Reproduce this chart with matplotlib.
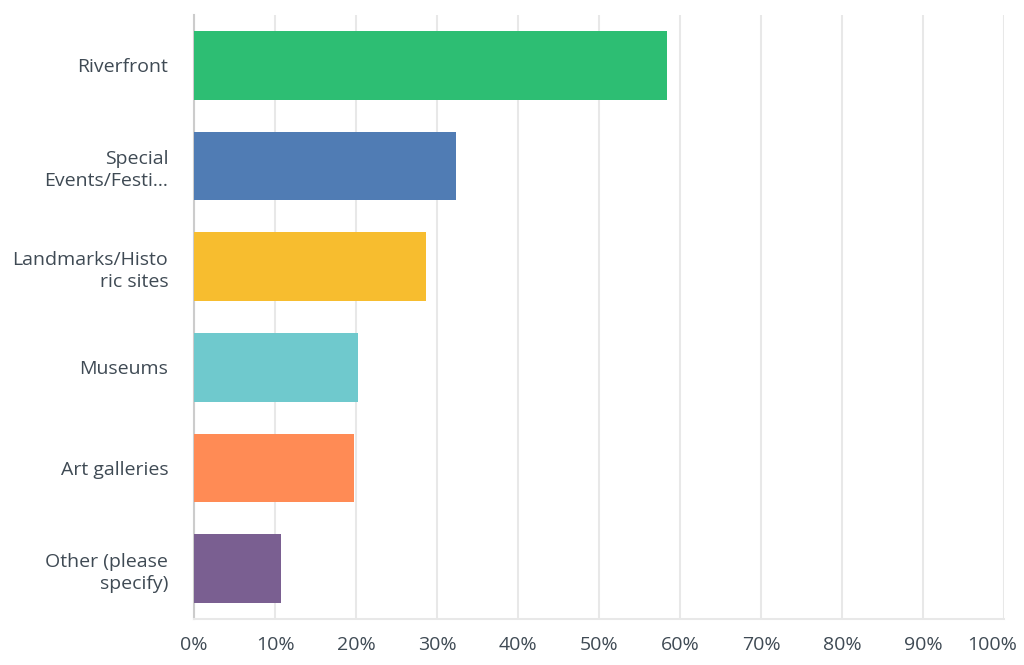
import matplotlib
matplotlib.use("Agg")
import matplotlib.pyplot as plt
from matplotlib.ticker import FuncFormatter
from matplotlib.transforms import ScaledTranslation

categories = ["Riverfront", "Special\nEvents/Festi...", "Landmarks/Histo\nric sites",
              "Museums", "Art galleries", "Other (please\nspecify)"]
values = [58.4, 32.4, 28.6, 20.3, 19.7, 10.75]
colors = ["#2dbe73", "#507cb4", "#f7bd2f", "#6fc9cd", "#ff8b55", "#7a5f91"]
xticks = list(range(0, 101, 10))

plt.rcParams['font.family'] = ['Open Sans', 'DejaVu Sans']
text_color = "#3f4a54"

fig = plt.figure(figsize=(10.24, 6.65), dpi=100)
ax = fig.add_axes([194/1024, 1-619/665, 810/1024, 604/665])

y = list(range(len(categories)))
ax.barh(y, values, height=0.68, color=colors, zorder=3)
ax.set_ylim(len(categories)-0.5, -0.5)
ax.set_xlim(0, 100)
ax.set_xticks(xticks)
ax.xaxis.set_major_formatter(FuncFormatter(lambda v, p: f"{int(v)}%"))
ax.set_yticks(y)
ax.set_yticklabels(categories, ha="right", linespacing=1.3)
ax.tick_params(axis='y', length=0, pad=18.5, labelsize=14, labelcolor=text_color)
ax.tick_params(axis='x', length=0, pad=12, labelsize=14, labelcolor=text_color)
ax.grid(axis='x', color="#e8e8e8", linewidth=1.5, zorder=0)
for s in ["top", "right"]:
    ax.spines[s].set_visible(False)
ax.spines["left"].set_color("#cccccc")
ax.spines["left"].set_linewidth(1.5)
ax.spines["bottom"].set_color("#e8e8e8")
ax.spines["bottom"].set_linewidth(1.5)

fig.canvas.draw()
last = ax.get_xticklabels()[-1]
last.set_transform(last.get_transform() + ScaledTranslation(-12/100, 0, fig.dpi_scale_trans))

fig.savefig("out.png", dpi=100)
